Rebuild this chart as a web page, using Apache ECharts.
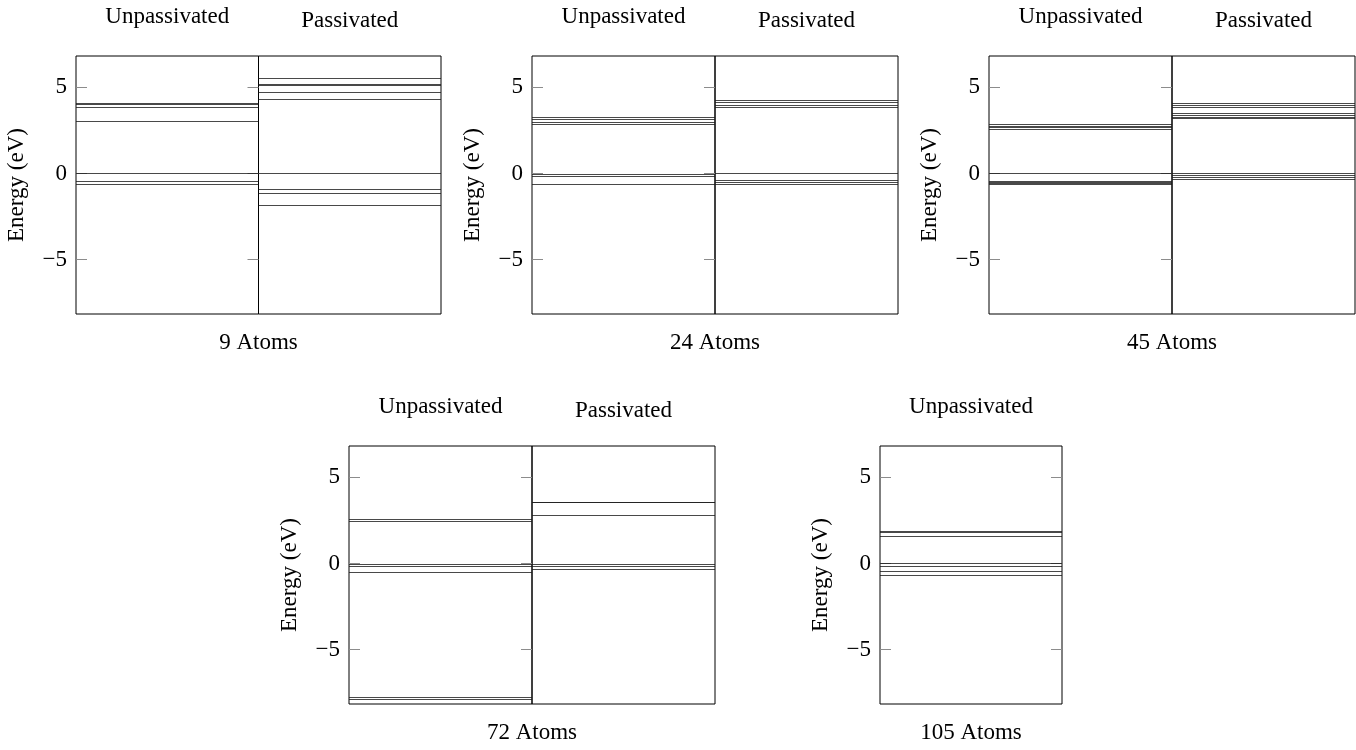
<!DOCTYPE html>
<html>
<head>
<meta charset="utf-8">
<script src="https://cdn.jsdelivr.net/npm/echarts@6/dist/echarts.min.js"></script>
<style>
html,body{margin:0;padding:0;background:#fff;}
#chart{width:1356px;height:750px;}
</style>
</head>
<body>
<div id="chart"></div>
<script>
// ---- Data (energy levels in eV) ----
const levels9U   = [4.07, 4.03, 3.85, 3.06, 0.0, -0.43, -0.60];
const levels9P   = [5.52, 5.18, 5.12, 4.71, 4.30, 0.0, -0.92, -1.15, -1.83];
const levels24U  = [3.29, 3.14, 2.99, 2.85, -0.03, -0.18, -0.63];
const levels24P  = [4.26, 4.16, 3.95, 3.82, 0.01, -0.38, -0.53, -0.63];
const levels45U  = [2.87, 2.77, 2.68, 2.58, 0.01, -0.42, -0.49, -0.57, -0.61];
const levels45P  = [4.07, 3.97, 3.84, 3.49, 3.39, 3.26, 3.18, 0.01, -0.10, -0.22, -0.32];
const levels72U  = [2.56, 2.48, -0.03, -0.14, -0.51, -7.78, -7.86];
const levels72P  = [3.58, 3.53, 2.81, -0.05, -0.13, -0.35];
const levels105U = [1.90, 1.79, 1.61, -0.01, -0.18, -0.42, -0.67];

const tickValues = [-5, 0, 5];
const tickLabels = ['\u22125', '0', '5'];
const panelNames = ['9 Atoms', '24 Atoms', '45 Atoms', '72 Atoms', '105 Atoms'];
const halfNames = ['Unpassivated', 'Passivated'];
const yMin = -8.15, yMax = 6.82;

// ---- Layout ----
const FONT = 'Liberation Serif';
const FS = 23;
const rowTop = [56, 446], plotH = 258;
const panels = [
  {left: 76,  w: 182.5, row: 0, data: [levels9U, levels9P]},
  {left: 532, w: 183,   row: 0, data: [levels24U, levels24P]},
  {left: 989, w: 183,   row: 0, data: [levels45U, levels45P]},
  {left: 349, w: 183,   row: 1, data: [levels72U, levels72P]},
  {left: 880, w: 182,   row: 1, data: [levels105U]}
];

const grid = [], xAxis = [], yAxis = [], series = [], graphic = [];

panels.forEach((p, pi) => {
  const top = rowTop[p.row];
  p.data.forEach((lv, hi) => {
    const gi = grid.length;
    const left = p.left + hi * p.w;
    grid.push({left: left, top: top, width: p.w, height: plotH, show: true,
      borderColor: '#000', borderWidth: 1, backgroundColor: 'transparent', containLabel: false});
    xAxis.push({gridIndex: gi, type: 'value', min: 0, max: 1, show: false});
    const isUnp = hi === 0;
    const yi = yAxis.length;
    yAxis.push({
      gridIndex: gi, type: 'value', min: yMin, max: yMax, position: 'left',
      axisLine: {show: false},
      splitLine: {show: false},
      axisTick: {show: isUnp, inside: true, length: 11, customValues: tickValues,
        lineStyle: {color: '#8c8c8c', width: 1}},
      axisLabel: {show: isUnp, customValues: tickValues, margin: 9,
        formatter: v => tickLabels[tickValues.indexOf(Math.round(v))] || '',
        fontFamily: FONT, fontSize: FS, color: '#000'},
      name: isUnp ? 'Energy (eV)' : '', nameLocation: 'middle', nameRotate: 90, nameGap: 48,
      nameTextStyle: {fontFamily: FONT, fontSize: FS, color: '#000'}
    });
    if (isUnp) {
      yAxis.push({
        gridIndex: gi, type: 'value', min: yMin, max: yMax, position: 'right',
        axisLine: {show: false}, splitLine: {show: false},
        axisTick: {show: true, inside: true, length: 11, customValues: tickValues,
          lineStyle: {color: '#8c8c8c', width: 1}},
        axisLabel: {show: false}
      });
    }
    series.push({
      type: 'line', xAxisIndex: gi, yAxisIndex: yi, data: [], silent: true,
      markLine: {
        silent: true, symbol: ['none', 'none'], animation: false,
        label: {show: false},
        lineStyle: {color: '#1a1a1a', width: 0.8, type: 'solid'},
        emphasis: {disabled: true},
        data: lv.map(v => ({yAxis: v}))
      }
    });
    graphic.push({type: 'text', x: left + p.w / 2, y: isUnp ? top - 39 : top - 35,
      style: {text: halfNames[hi], textAlign: 'center', textVerticalAlign: 'middle',
        font: FS + 'px "' + FONT + '"', fill: '#000'}});
  });
  const totalW = p.w * p.data.length;
  graphic.push({type: 'text', x: p.left + totalW / 2, y: top + plotH + 29,
    style: {text: panelNames[pi], textAlign: 'center', textVerticalAlign: 'middle',
      font: FS + 'px "' + FONT + '"', fill: '#000'}});
});

const chart = echarts.init(document.getElementById('chart'), null, {renderer: 'canvas'});
chart.setOption({
  animation: false,
  backgroundColor: '#fff',
  grid, xAxis, yAxis, series, graphic
});
</script>
</body>
</html>
